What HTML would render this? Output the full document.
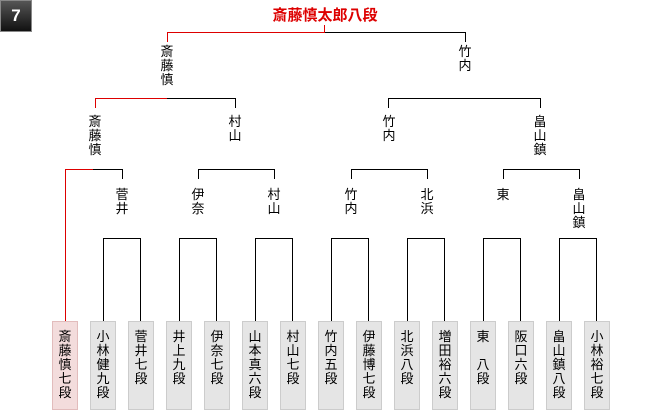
<!DOCTYPE html>
<html><head><meta charset="utf-8"><style>
body{margin:0;width:660px;height:410px;background:#fff;position:relative;overflow:hidden;font-family:"Liberation Sans","Noto Sans CJK JP",sans-serif;}
.l{position:absolute;background:#000;}
.r{background:#d00 !important;}
.t{position:absolute;font-size:13px;line-height:14px;text-align:center;width:20px;color:#000;}
.b{position:absolute;top:321px;width:26px;height:87px;background:#e5e5e5;border:1px solid #ccc;font-size:13px;line-height:14px;text-align:center;padding-top:8px;box-sizing:border-box;height:89px;}
.badge{position:absolute;left:0;top:0;width:32px;height:32px;box-sizing:border-box;border:1px solid #888;background:linear-gradient(#555,#111);color:#fff;font-weight:bold;font-size:17px;line-height:30px;text-align:center;}
</style></head><body>
<div class="badge">7</div>
<div style="position:absolute;left:225px;top:7px;width:200px;text-align:center;color:#d00;font-weight:bold;font-size:15px;line-height:18px;">斎藤慎太郎八段</div>
<!-- final -->
<div class="l r" style="left:324px;top:25px;width:1px;height:8px"></div>
<div class="l r" style="left:167px;top:32px;width:158px;height:1px"></div>
<div class="l" style="left:325px;top:32px;width:141px;height:1px"></div>
<div class="l r" style="left:167px;top:32px;width:1px;height:10px"></div>
<div class="l" style="left:465px;top:32px;width:1px;height:10px"></div>
<div class="t" style="left:157px;top:45px">斎<br>藤<br>慎</div>
<div class="t" style="left:455px;top:45px">竹<br>内</div>
<!-- semis -->
<div class="l r" style="left:95px;top:98px;width:72px;height:1px"></div>
<div class="l" style="left:167px;top:98px;width:69px;height:1px"></div>
<div class="l r" style="left:95px;top:98px;width:1px;height:10px"></div>
<div class="l" style="left:235px;top:98px;width:1px;height:10px"></div>
<div class="l" style="left:388px;top:98px;width:153px;height:1px"></div>
<div class="l" style="left:388px;top:98px;width:1px;height:10px"></div>
<div class="l" style="left:540px;top:98px;width:1px;height:10px"></div>
<div class="t" style="left:85px;top:115px">斎<br>藤<br>慎</div>
<div class="t" style="left:225px;top:115px">村<br>山</div>
<div class="t" style="left:379px;top:115px">竹<br>内</div>
<div class="t" style="left:530px;top:115px">畠<br>山<br>鎮</div>
<!-- quarters -->
<div class="l r" style="left:65px;top:169px;width:28px;height:1px"></div>
<div class="l" style="left:93px;top:169px;width:30px;height:1px"></div>
<div class="l r" style="left:65px;top:169px;width:1px;height:152px"></div>
<div class="l" style="left:122px;top:169px;width:1px;height:10px"></div>
<div class="l" style="left:198px;top:169px;width:77px;height:1px"></div>
<div class="l" style="left:198px;top:169px;width:1px;height:10px"></div>
<div class="l" style="left:274px;top:169px;width:1px;height:10px"></div>
<div class="l" style="left:351px;top:169px;width:77px;height:1px"></div>
<div class="l" style="left:351px;top:169px;width:1px;height:10px"></div>
<div class="l" style="left:427px;top:169px;width:1px;height:10px"></div>
<div class="l" style="left:503px;top:169px;width:77px;height:1px"></div>
<div class="l" style="left:503px;top:169px;width:1px;height:10px"></div>
<div class="l" style="left:579px;top:169px;width:1px;height:10px"></div>
<div class="t" style="left:112px;top:188px">菅<br>井</div>
<div class="t" style="left:188px;top:188px">伊<br>奈</div>
<div class="t" style="left:264px;top:188px">村<br>山</div>
<div class="t" style="left:341px;top:188px">竹<br>内</div>
<div class="t" style="left:417px;top:188px">北<br>浜</div>
<div class="t" style="left:493px;top:188px">東</div>
<div class="t" style="left:569px;top:188px">畠<br>山<br>鎮</div>
<!-- first round brackets -->
<div class="l" style="left:103px;top:238px;width:38px;height:1px"></div><div class="l" style="left:103px;top:238px;width:1px;height:83px"></div><div class="l" style="left:140px;top:238px;width:1px;height:83px"></div>
<div class="l" style="left:179px;top:238px;width:38px;height:1px"></div><div class="l" style="left:179px;top:238px;width:1px;height:83px"></div><div class="l" style="left:216px;top:238px;width:1px;height:83px"></div>
<div class="l" style="left:255px;top:238px;width:38px;height:1px"></div><div class="l" style="left:255px;top:238px;width:1px;height:83px"></div><div class="l" style="left:292px;top:238px;width:1px;height:83px"></div>
<div class="l" style="left:331px;top:238px;width:38px;height:1px"></div><div class="l" style="left:331px;top:238px;width:1px;height:83px"></div><div class="l" style="left:368px;top:238px;width:1px;height:83px"></div>
<div class="l" style="left:407px;top:238px;width:38px;height:1px"></div><div class="l" style="left:407px;top:238px;width:1px;height:83px"></div><div class="l" style="left:444px;top:238px;width:1px;height:83px"></div>
<div class="l" style="left:483px;top:238px;width:38px;height:1px"></div><div class="l" style="left:483px;top:238px;width:1px;height:83px"></div><div class="l" style="left:520px;top:238px;width:1px;height:83px"></div>
<div class="l" style="left:559px;top:238px;width:38px;height:1px"></div><div class="l" style="left:559px;top:238px;width:1px;height:83px"></div><div class="l" style="left:596px;top:238px;width:1px;height:83px"></div>
<!-- boxes -->
<div class="b" style="left:52px;background:#f3dcdc;border-color:#e2bcbc">斎<br>藤<br>慎<br>七<br>段</div>
<div class="b" style="left:90px">小<br>林<br>健<br>九<br>段</div>
<div class="b" style="left:128px">菅<br>井<br>七<br>段</div>
<div class="b" style="left:166px">井<br>上<br>九<br>段</div>
<div class="b" style="left:204px">伊<br>奈<br>七<br>段</div>
<div class="b" style="left:242px">山<br>本<br>真<br>六<br>段</div>
<div class="b" style="left:280px">村<br>山<br>七<br>段</div>
<div class="b" style="left:318px">竹<br>内<br>五<br>段</div>
<div class="b" style="left:356px">伊<br>藤<br>博<br>七<br>段</div>
<div class="b" style="left:394px">北<br>浜<br>八<br>段</div>
<div class="b" style="left:432px">増<br>田<br>裕<br>六<br>段</div>
<div class="b" style="left:470px">東<br><br>八<br>段</div>
<div class="b" style="left:508px">阪<br>口<br>六<br>段</div>
<div class="b" style="left:546px">畠<br>山<br>鎮<br>八<br>段</div>
<div class="b" style="left:584px">小<br>林<br>裕<br>七<br>段</div>
</body></html>
